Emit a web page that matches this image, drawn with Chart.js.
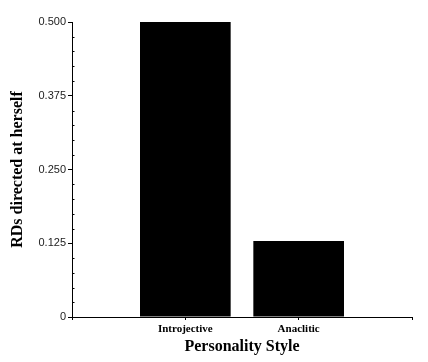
<!DOCTYPE html>
<html>
<head>
<meta charset="utf-8">
<script src="https://cdn.jsdelivr.net/npm/chart.js@4/dist/chart.umd.min.js"></script>
<style>
  html, body { margin: 0; padding: 0; background: #fff; }
  #wrap { width: 428px; height: 362px; }
</style>
</head>
<body>
<div id="wrap"><canvas id="c" width="428" height="362"></canvas></div>
<script>
// Data
const categories = ['', 'Introjective', 'Anaclitic', ''];
const values = [null, 0.5, 0.129, null];
const yMin = 0;
const yMax = 0.5;
const yStep = 0.025;      // minor tick step
const yMajorEvery = 5;    // labelled tick every 0.125
const xTitle = 'Personality Style';
const yTitle = 'RDs directed at herself';

function isMajor(v) {
  return Math.round(v / yStep) % yMajorEvery === 0;
}

const minorTicksPlugin = {
  id: 'minorTicks',
  afterDraw(chart) {
    const y = chart.scales.y;
    const ctx = chart.ctx;
    const x0 = y.right;
    ctx.save();
    ctx.strokeStyle = '#000';
    ctx.lineWidth = 1;
    y.ticks.forEach(t => {
      if (!isMajor(t.value)) {
        const py = Math.round(y.getPixelForValue(t.value)) + 0.5;
        ctx.beginPath();
        ctx.moveTo(x0, py);
        ctx.lineTo(x0 + 2.5, py);
        ctx.stroke();
      }
    });
    ctx.restore();
  }
};

new Chart(document.getElementById('c'), {
  type: 'bar',
  data: {
    labels: categories,
    datasets: [{
      data: values,
      backgroundColor: '#000',
      borderWidth: 0,
      categoryPercentage: 0.8,
      barPercentage: 1.0
    }]
  },
  options: {
    responsive: false,
    animation: false,
    devicePixelRatio: 1,
    layout: { padding: { left: 0, right: 16, top: 22, bottom: 0 } },
    plugins: { legend: { display: false }, tooltip: { enabled: false } },
    scales: {
      x: {
        type: 'category',
        offset: false,
        grid: { display: true, offset: false, drawOnChartArea: false, drawTicks: true, tickLength: 3, tickColor: '#000', color: '#000' },
        border: { display: true, color: '#000', width: 1 },
        ticks: {
          autoSkip: false,
          maxRotation: 0,
          padding: 3,
          color: '#000',
          font: { family: '"Liberation Serif", "Times New Roman", serif', size: 11, weight: 'bold' }
        },
        title: {
          display: true,
          text: xTitle,
          color: '#000',
          padding: { top: 0, bottom: 6 },
          font: { family: '"Liberation Serif", "Times New Roman", serif', size: 16, weight: 'bold' }
        },
        afterFit(scale) { scale.height = 45; }
      },
      y: {
        min: yMin,
        max: yMax,
        grid: {
          display: true,
          drawOnChartArea: false,
          drawTicks: true,
          tickLength: 4,
          tickColor: (ctx) => (ctx.tick && isMajor(ctx.tick.value)) ? '#000' : 'rgba(0,0,0,0)'
        },
        border: { display: true, color: '#000', width: 1 },
        ticks: {
          stepSize: yStep,
          autoSkip: false,
          padding: 2,
          color: '#222',
          font: { family: '"Liberation Sans", Arial, sans-serif', size: 11 },
          callback: (v) => isMajor(v) ? (Math.abs(v) < 1e-9 ? '0' : Number(v).toFixed(3)) : ''
        },
        title: {
          display: true,
          text: yTitle,
          color: '#000',
          padding: { top: 8, bottom: 0 },
          font: { family: '"Liberation Serif", "Times New Roman", serif', size: 16, weight: 'bold' }
        },
        afterFit(scale) { scale.width = 72; }
      }
    }
  },
  plugins: [minorTicksPlugin]
});
</script>
</body>
</html>
